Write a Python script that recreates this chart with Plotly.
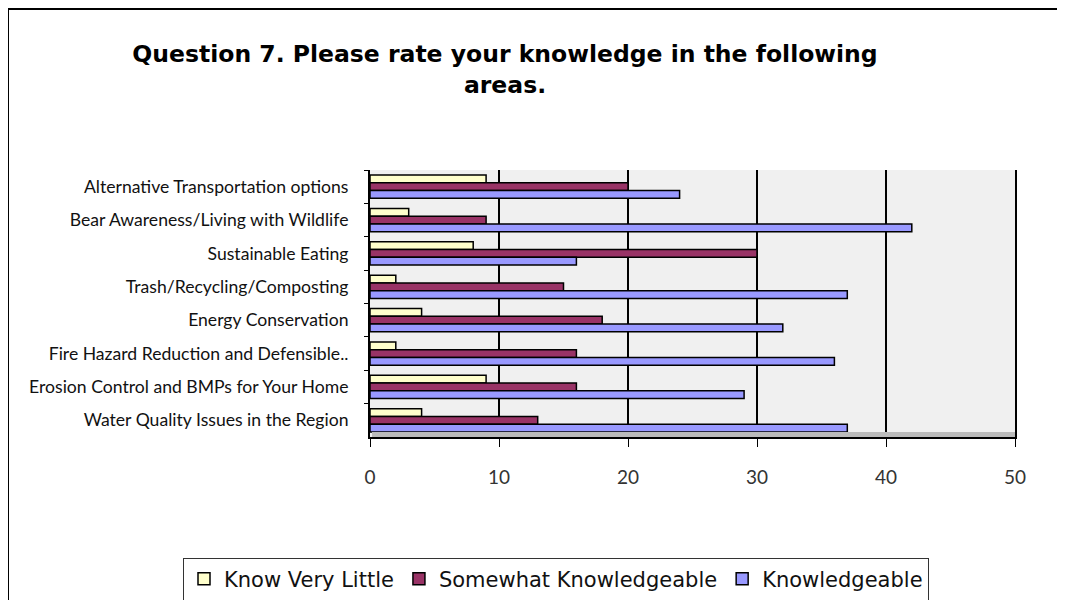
import plotly.graph_objects as go

categories = [
    "Alternative Transportation options",
    "Bear Awareness/Living with Wildlife",
    "Sustainable Eating",
    "Trash/Recycling/Composting",
    "Energy Conservation",
    "Fire Hazard Reduction and Defensible..",
    "Erosion Control and BMPs for Your Home",
    "Water Quality Issues in the Region",
]
know_very_little = [9, 3, 8, 2, 4, 2, 9, 4]
somewhat_knowledgeable = [20, 9, 30, 15, 18, 16, 16, 13]
knowledgeable = [24, 42, 16, 37, 32, 36, 29, 37]
series_names = ["Know Very Little", "Somewhat Knowledgeable", "Knowledgeable"]
series_colors = ["#FFFFCC", "#993366", "#9999FF"]
x_ticks = [0, 10, 20, 30, 40, 50]

OFF = 8  # page body margin
W, H = 1065 - OFF, 600 - OFF
# target screen coordinates of the plot area
SL, SR, ST, SB = 370, 1015, 170, 437
L, R, T, B = SL - OFF, SR - OFF, ST - OFF, SB - OFF

def px(x):
    return (x - OFF - L) / (R - L)

def py(y):
    return (B - (y - OFF)) / (B - T)

def cx(x):
    return (x - OFF) / W

def cy(y):
    return 1 - (y - OFF) / H

FONT = "Lato"

fig = go.Figure()
for name, vals, col in zip(series_names, [know_very_little, somewhat_knowledgeable, knowledgeable], series_colors):
    fig.add_trace(go.Bar(
        y=categories, x=vals, name=name, orientation="h",
        marker=dict(color=col, line=dict(color="#000000", width=1.5)),
    ))

fig.update_layout(
    width=W, height=H,
    barmode="group", bargap=0.3, bargroupgap=0.0,
    paper_bgcolor="white", plot_bgcolor="#F0F0F0",
    margin=dict(l=L, r=W - R, t=T, b=H - B, pad=0, autoexpand=False),
    title=dict(
        text="<b>Question 7. Please rate your knowledge in the following<br>areas.</b>",
        x=cx(505), xanchor="center", y=cy(62), yanchor="middle",
        font=dict(family="DejaVu Sans", size=23.5, color="#000000"),
    ),
    font=dict(family=FONT, color="#000000"),
    legend=dict(
        orientation="h", xref="paper", yref="paper",
        x=px(183), xanchor="left", y=py(579), yanchor="middle",
        bordercolor="#333333", borderwidth=1, bgcolor="white",
        font=dict(family="DejaVu Sans", size=21, color="#111111"),
        traceorder="normal", itemwidth=30, tracegroupgap=0,
    ),
    showlegend=True,
)
fig.update_xaxes(
    range=[0, 50], tickvals=x_ticks, showgrid=True, gridcolor="#000000", gridwidth=1.5,
    showline=True, linecolor="#000000", linewidth=2,
    ticks="outside", ticklen=8, tickcolor="#000000", tickwidth=1,
    tickfont=dict(family=FONT, size=19, color="#333333"), ticklabelstandoff=14,
    zeroline=False, fixedrange=True,
)
fig.update_yaxes(
    autorange="reversed", showline=True, mirror=True, linecolor="#000000", linewidth=2,
    ticks="outside", tickson="boundaries", ticklen=4, tickcolor="#000000",
    tickfont=dict(family=FONT, size=17.6, color="#111111"), ticklabelstandoff=16,
    showgrid=False, fixedrange=True,
)

# outer frame lines (left and top) and grey floor strip
fig.add_shape(type="line", xref="paper", yref="paper", x0=px(8), x1=px(8), y0=py(8), y1=py(H + OFF + 5),
              line=dict(color="#000000", width=2))
fig.add_shape(type="line", xref="paper", yref="paper", x0=px(7), x1=px(W + OFF + 5), y0=py(9), y1=py(9),
              line=dict(color="#000000", width=2))
fig.add_shape(type="rect", xref="paper", yref="paper", x0=px(372), x1=px(1015), y0=py(437), y1=py(432),
              fillcolor="#BBBBBB", line=dict(width=0), layer="above")

fig.write_html("out.html")
